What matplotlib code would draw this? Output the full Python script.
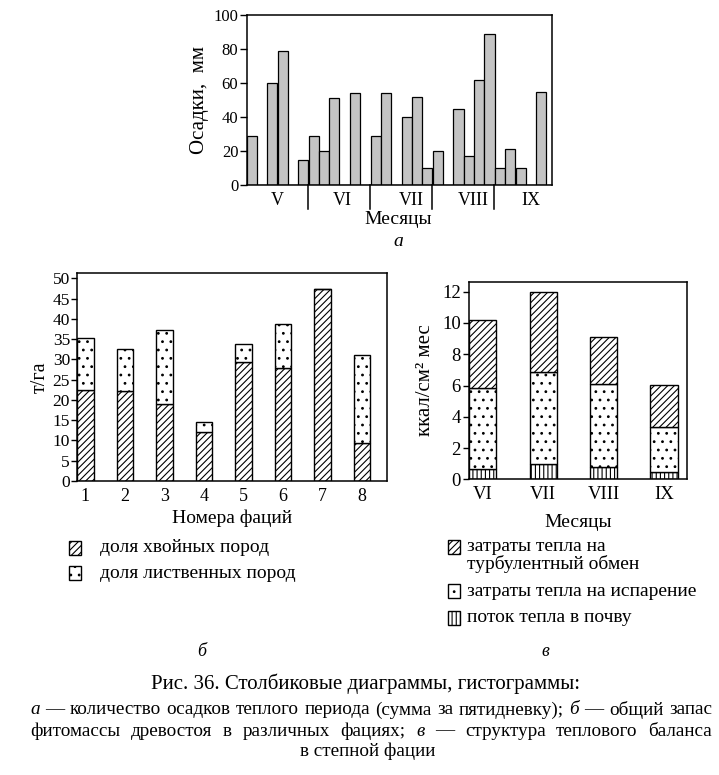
import matplotlib
matplotlib.use("Agg")
import matplotlib.pyplot as plt
from matplotlib.patches import Rectangle
from matplotlib.transforms import blended_transform_factory
import numpy as np

plt.rcParams['font.family'] = ['Liberation Serif', 'DejaVu Serif']
plt.rcParams['hatch.linewidth'] = 0.8
plt.rcParams['axes.linewidth'] = 1.1

# ---------------- data ----------------
# (a) precipitation per pentad, 6 pentads per month (V..IX)
precip = [29, 0, 60, 79, 0, 15,
          29, 20, 51, 0, 54, 0,
          29, 54, 0, 40, 52, 10,
          20, 0, 45, 17, 62, 89,
          10, 21, 10, 0, 55, 0]
months_a = ['V', 'VI', 'VII', 'VIII', 'IX']
yticks_a = [0, 20, 40, 60, 80, 100]

# (b) phytomass by facies
facies = ['1', '2', '3', '4', '5', '6', '7', '8']
conifer = [22.4, 22.2, 18.9, 12.0, 29.3, 28.0, 47.5, 9.3]
decid = [13.0, 10.4, 18.4, 2.5, 4.6, 10.7, 0.0, 21.8]
yticks_b = [0, 5, 10, 15, 20, 25, 30, 35, 40, 45, 50]
legend_b = ['доля хвойных пород', 'доля лиственных пород']

# (c) heat balance
months_c = ['VI', 'VII', 'VIII', 'IX']
soil = [0.66, 0.98, 0.81, 0.49]
evap = [5.16, 5.86, 5.29, 2.88]
turb = [4.37, 5.16, 2.98, 2.64]
yticks_c = [0, 2, 4, 6, 8, 10, 12]
legend_c = ['затраты тепла на\nтурбулентный обмен', 'затраты тепла на испарение',
            'поток тепла в почву']

HATCH_DIAG = '/////'
HATCH_DOTS = '..'
HATCH_VERT = '||||'

W, H = 719, 775
fig = plt.figure(figsize=(W / 100, H / 100), dpi=100)
fig.patch.set_facecolor('white')


def rect(l, t, r, b):
    return [l / W, 1 - b / H, (r - l) / W, (b - t) / H]


# ---------------- panel a ----------------
axa = fig.add_axes(rect(246.7, 15, 551.7, 185))
xa = np.arange(len(precip))
axa.bar(xa, precip, width=0.97, align='edge', color='#c4c4c4',
        edgecolor='black', linewidth=0.9)
axa.set_xlim(0, 29.5)
axa.set_ylim(0, 100)
axa.set_yticks(yticks_a)
axa.tick_params(axis='y', direction='out', length=5, width=1, labelsize=12, pad=1)
axa.set_xticks([])
trans = blended_transform_factory(axa.transData, axa.transAxes)
for k in range(1, len(months_a)):
    axa.plot([6 * k - 0.1, 6 * k - 0.1], [0, -0.14], color='black', lw=1.1,
             transform=trans, clip_on=False)
label_pos = [3, 9.2, 15.9, 21.9, 27.5]
for p, m in zip(label_pos, months_a):
    axa.text(p, -0.09, m, transform=trans, ha='center', va='center', fontsize=13)
axa.set_ylabel('Осадки,  мм', fontsize=15, labelpad=3)
fig.text(398 / W, 1 - 220 / H, 'Месяцы', ha='center', va='center', fontsize=14)
fig.text(398 / W, 1 - 242 / H, 'а', ha='center', va='center', fontsize=14, style='italic')

# ---------------- panel b ----------------
axb = fig.add_axes(rect(77, 272.7, 386.7, 481))
xb = np.arange(1, len(facies) + 1)
axb.bar(xb, conifer, width=0.42, color='white', edgecolor='black',
        hatch=HATCH_DIAG, linewidth=1.0)
axb.bar(xb, decid, bottom=conifer, width=0.42, color='white', edgecolor='black',
        hatch=HATCH_DOTS, linewidth=1.0)
axb.set_xlim(0.79, 8.63)
axb.set_ylim(0, 51.4)
axb.set_yticks(yticks_b)
axb.set_xticks(xb)
axb.set_xticklabels(facies)
axb.tick_params(axis='y', direction='out', length=4, width=1, labelsize=12.5, pad=1)
axb.tick_params(axis='x', length=0, labelsize=13, pad=5)
axb.set_ylabel('т/га', fontsize=14.5, labelpad=2)
axb.set_xlabel('Номера фаций', fontsize=14, labelpad=3)

# ---------------- panel c ----------------
axc = fig.add_axes(rect(469, 281.7, 687, 479.3))
xc = np.arange(len(months_c))
b1 = np.array(soil)
b2 = b1 + np.array(evap)
axc.bar(xc, soil, width=0.45, color='white', edgecolor='black', hatch=HATCH_VERT, linewidth=1.0)
axc.bar(xc, evap, bottom=b1, width=0.45, color='white', edgecolor='black', hatch=HATCH_DOTS, linewidth=1.0)
axc.bar(xc, turb, bottom=b2, width=0.45, color='white', edgecolor='black', hatch=HATCH_DIAG, linewidth=1.0)
axc.set_xlim(-0.23, 3.38)
axc.set_ylim(0, 12.64)
axc.set_yticks(yticks_c)
axc.set_xticks(xc)
axc.set_xticklabels(months_c)
axc.tick_params(axis='y', direction='out', length=4, width=1, labelsize=13.5, pad=2)
axc.tick_params(axis='x', length=0, labelsize=13.5, pad=5)
axc.set_ylabel('ккал/см² мес', fontsize=15, labelpad=5)
axc.set_xlabel('Месяцы', fontsize=14, labelpad=8)


# ---------------- legends (manual) ----------------
def legend_item(x, yc, hatch, label, tx, va='center', ty=None):
    pw, ph = 12, 14
    fig.add_artist(Rectangle((x / W, 1 - (yc + ph / 2) / H), pw / W, ph / H,
                             transform=fig.transFigure, facecolor='white',
                             edgecolor='black', hatch=hatch, linewidth=1.0))
    fig.text(tx / W, 1 - (ty if ty is not None else yc) / H, label, fontsize=14,
             va=va, ha='left', linespacing=1.0)


legend_item(69, 548, HATCH_DIAG, legend_b[0], 100)
legend_item(69, 573, HATCH_DOTS, legend_b[1], 100)
legend_item(448, 547, HATCH_DIAG, legend_c[0], 467, va='top', ty=538)
legend_item(448, 591, HATCH_DOTS, legend_c[1], 467)
legend_item(448, 618, HATCH_VERT, legend_c[2], 467)

fig.text(202 / W, 1 - 652 / H, 'б', ha='center', va='center', fontsize=13, style='italic')
fig.text(545 / W, 1 - 652 / H, 'в', ha='center', va='center', fontsize=13, style='italic')

# ---------------- caption ----------------
fig.text(366 / W, 1 - 684 / H, 'Рис. 36. Столбиковые диаграммы, гистограммы:',
         ha='center', va='center', fontsize=15)

fig.canvas.draw()
renderer = fig.canvas.get_renderer()


def justified(y, x0, x1, words, fs=13.8):
    """words: list of (text, italic)"""
    arts = []
    widths = []
    for w, it in words:
        t = fig.text(0, 1 - y / H, w, fontsize=fs, va='center', ha='left',
                     style='italic' if it else 'normal')
        bb = t.get_window_extent(renderer)
        arts.append(t)
        widths.append(bb.width)
    gap = (x1 - x0 - sum(widths)) / (len(words) - 1)
    x = x0
    for t, wdt in zip(arts, widths):
        t.set_x(x / W)
        x += wdt + gap


line2 = [('а', True), ('—', False), ('количество', False), ('осадков', False),
         ('теплого', False), ('периода', False), ('(сумма', False), ('за', False),
         ('пятидневку);', False), ('б', True), ('—', False), ('общий', False), ('запас', False)]
line3 = [('фитомассы', False), ('древостоя', False), ('в', False), ('различных', False),
         ('фациях;', False), ('в', True), ('—', False), ('структура', False),
         ('теплового', False), ('баланса', False)]
justified(710, 30, 712, line2)
justified(731, 30, 712, line3)
fig.text(368 / W, 1 - 751 / H, 'в степной фации', ha='center', va='center', fontsize=13.8)

fig.savefig('out.png', dpi=100, facecolor='white')
